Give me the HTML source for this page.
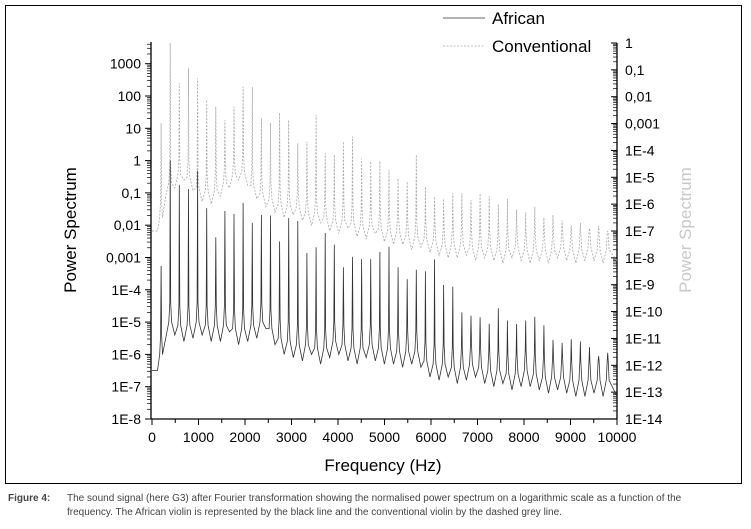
<!DOCTYPE html>
<html><head><meta charset="utf-8">
<style>
body{margin:0;background:#fff;width:751px;height:529px;overflow:hidden;font-family:"Liberation Sans",sans-serif}
#cap{position:absolute;left:8px;top:492px;font-size:10px;color:#444;line-height:14px;width:735px}
#cap b{display:inline-block;width:59px}
</style></head><body>
<svg id="chart" width="751" height="490" style="position:absolute;left:0;top:0" font-family="Liberation Sans, sans-serif">
<rect x="5.5" y="5.5" width="736" height="478" fill="none" stroke="#000" stroke-width="1"/>
<g id="axes"></g>
<g id="series"></g>
<text transform="translate(76,230) rotate(-90)" text-anchor="middle" font-size="17">Power Spectrum</text>
<text transform="translate(691,230) rotate(-90)" text-anchor="middle" font-size="17" fill="#c8c8c8">Power Spectrum</text>
<text x="383" y="471" text-anchor="middle" font-size="17">Frequency (Hz)</text>
<g>
<line x1="443" y1="18" x2="485" y2="18" stroke="#333" stroke-width="0.8"/>
<text x="492" y="24" font-size="17">African</text>
<line x1="443" y1="46" x2="485" y2="46" stroke="#aaa" stroke-width="0.8" stroke-dasharray="2,1.5"/>
<text x="492" y="52" font-size="17">Conventional</text>
</g>
</svg>
<div id="cap"><b>Figure 4:</b>The sound signal (here G3) after Fourier transformation showing the normalised power spectrum on a logarithmic scale as a function of the<br><span style="padding-left:59px">frequency. The African violin is represented by the black line and the conventional violin by the dashed grey line.</span></div>
<script>
// data (log10 values)
const fundamentalHz = 196;
const africanPeaks = [-3.26,0,-0.76,-0.88,-0.32,-1.47,-2.37,-1.56,-1.65,-1.31,-1.93,-1.68,-1.7,-2.5,-1.78,-1.87,-2.86,-2.68,-2.24,-2.6,-3.3,-2.98,-3.05,-3.05,-2.83,-2.67,-3.3,-3.67,-3.38,-3.43,-3.06,-3.85,-3.9,-4.7,-4.8,-4.85,-5.05,-4.57,-4.95,-5.06,-4.95,-4.84,-5.1,-5.55,-5.64,-5.53,-5.6,-5.77,-6.05,-5.95];
const africanTroughs = [-6.5,-5.5,-5.4,-5.6,-5.5,-5.4,-5.6,-5.6,-5.3,-5.7,-5.6,-5.5,-5.2,-5.7,-6.0,-6.1,-6.2,-6.0,-6.3,-6.1,-6.0,-6.2,-6.3,-6.1,-6.2,-6.3,-6.3,-6.4,-6.3,-6.4,-6.7,-6.8,-6.7,-6.9,-6.8,-6.7,-6.9,-7.0,-6.9,-7.1,-7.0,-7.0,-7.1,-7.2,-7.1,-7.2,-7.3,-7.3,-7.2,-7.3,-7.3];
const convPeaks = [-2.98,0,-1.5,-0.94,-1.31,-2.12,-2.37,-2.87,-2.37,-1.63,-1.63,-2.8,-2.98,-2.6,-2.87,-3.73,-3.67,-2.68,-4.1,-4.16,-3.67,-3.48,-4.3,-4.4,-4.4,-4.73,-5.04,-5.16,-4.16,-5.35,-5.72,-5.8,-5.6,-5.6,-5.85,-5.6,-5.7,-6.0,-5.8,-6.2,-6.3,-6.1,-6.5,-6.4,-6.6,-6.8,-6.7,-6.9,-6.8,-7.0];
const convTroughs = [-7.0,-5.7,-5.4,-5.1,-5.5,-5.9,-6.0,-5.7,-5.4,-5.1,-5.3,-5.8,-6.1,-6.3,-6.5,-6.4,-6.6,-6.8,-6.7,-7.0,-7.1,-6.9,-7.2,-7.3,-7.1,-7.4,-7.5,-7.5,-7.7,-7.6,-7.8,-7.9,-8.0,-8.0,-7.9,-8.1,-8.0,-8.1,-8.2,-8.0,-8.1,-8.2,-8.1,-8.2,-8.0,-8.1,-8.2,-8.1,-8.1,-8.2,-8.1];
const xTicks = [0,1000,2000,3000,4000,5000,6000,7000,8000,9000,10000];
const leftTickLabels = ["1000","100","10","1","0,1","0,01","0,001","1E-4","1E-5","1E-6","1E-7","1E-8"];
const leftTickExps = [3,2,1,0,-1,-2,-3,-4,-5,-6,-7,-8];
const rightTickLabels = ["1","0,1","0,01","0,001","1E-4","1E-5","1E-6","1E-7","1E-8","1E-9","1E-10","1E-11","1E-12","1E-13","1E-14"];
const rightTickExps = [0,-1,-2,-3,-4,-5,-6,-7,-8,-9,-10,-11,-12,-13,-14];

const NS="http://www.w3.org/2000/svg";
const X0=152,X1=617,YB=419,YT=43;
const xs=f=>X0+(f/10000)*(X1-X0);
const yl=e=>YB-(e+8)*32.3;
const yr=e=>YT+(-e)*(YB-YT)/14;
const ax=document.getElementById('axes');
function mk(tag,attrs,parent){const el=document.createElementNS(NS,tag);for(const k in attrs)el.setAttribute(k,attrs[k]);parent.appendChild(el);return el;}
let el;
el=mk('line',{x1:151,y1:YT-1,x2:151,y2:YB,stroke:'#000','stroke-width':1.3},ax);


el=mk('line',{x1:151,y1:YB,x2:X1,y2:YB,stroke:'#000','stroke-width':1.3},ax);


el=mk('line',{x1:X1,y1:YT,x2:X1,y2:YB,stroke:'#000','stroke-width':1.3},ax);


leftTickExps.forEach((e,i)=>{
  const y=yl(e);
  mk('line',{x1:145,y1:y,x2:151,y2:y,stroke:'#000','stroke-width':1},ax);
  const t=mk('text',{x:141,y:y+5,'text-anchor':'end','font-size':14},ax);
  t.textContent=leftTickLabels[i];
  
  
});
for(let e=-8;e<4;e++){for(let m=2;m<10;m++){const y=yl(e+Math.log10(m));if(y<YT-1)continue;mk('line',{x1:147,y1:y,x2:151,y2:y,stroke:'#000','stroke-width':0.7},ax);}}
rightTickExps.forEach((e,i)=>{
  const y=yr(e);
  mk('line',{x1:X1-6,y1:y,x2:X1,y2:y,stroke:'#000','stroke-width':1},ax);
  const t=mk('text',{x:625,y:y+5,'font-size':14},ax);
  t.textContent=rightTickLabels[i];
  
  
});
for(let e=-14;e<0;e++){for(let m=2;m<10;m++){const y=yr(e+Math.log10(m));mk('line',{x1:X1-4,y1:y,x2:X1,y2:y,stroke:'#000','stroke-width':0.7},ax);}}
xTicks.forEach(f=>{
  const x=xs(f);
  mk('line',{x1:x,y1:YB,x2:x,y2:YB+6,stroke:'#000','stroke-width':1},ax);
  if(f<10000)mk('line',{x1:xs(f+500),y1:YB,x2:xs(f+500),y2:YB+4,stroke:'#000','stroke-width':1},ax);
  const t=mk('text',{x:x,y:YB+23,'text-anchor':'middle','font-size':14},ax);
  t.textContent=f;
  
  
});
function path(peaks,troughs,ymap){
  let pts=[[xs(0),ymap(troughs[0])],[xs(fundamentalHz*0.6),ymap(troughs[0])]];
  peaks.forEach((p,i)=>{
    const f=fundamentalHz*(i+1);
    const tL=troughs[i], tR=troughs[i+1];
    const sh=Math.min(tL,tR)+0.5;
    if(i>0)pts.push([xs(f-fundamentalHz/2),ymap(tL)]);
    pts.push([xs(f-30),ymap(Math.min(sh,p))]);
    pts.push([xs(f-10),ymap(Math.min(sh+0.6,p))]);
    pts.push([xs(f),ymap(p)]);
    pts.push([xs(f+10),ymap(Math.min(sh+0.6,p))]);
    pts.push([xs(f+30),ymap(Math.min(sh,p))]);
  });
  pts.push([xs(10000),ymap(troughs[troughs.length-1])]);
  return 'M'+pts.map(q=>q[0].toFixed(1)+','+q[1].toFixed(1)).join('L');
}
const sg=document.getElementById('series');
el=mk('path',{d:path(convPeaks,convTroughs,yr),fill:'none',stroke:'#a8a8a8','stroke-width':0.8,'stroke-dasharray':'2,1.5'},sg);


el=mk('path',{d:path(africanPeaks,africanTroughs,yl),fill:'none',stroke:'#333','stroke-width':0.8},sg);


</script>
</body></html>
